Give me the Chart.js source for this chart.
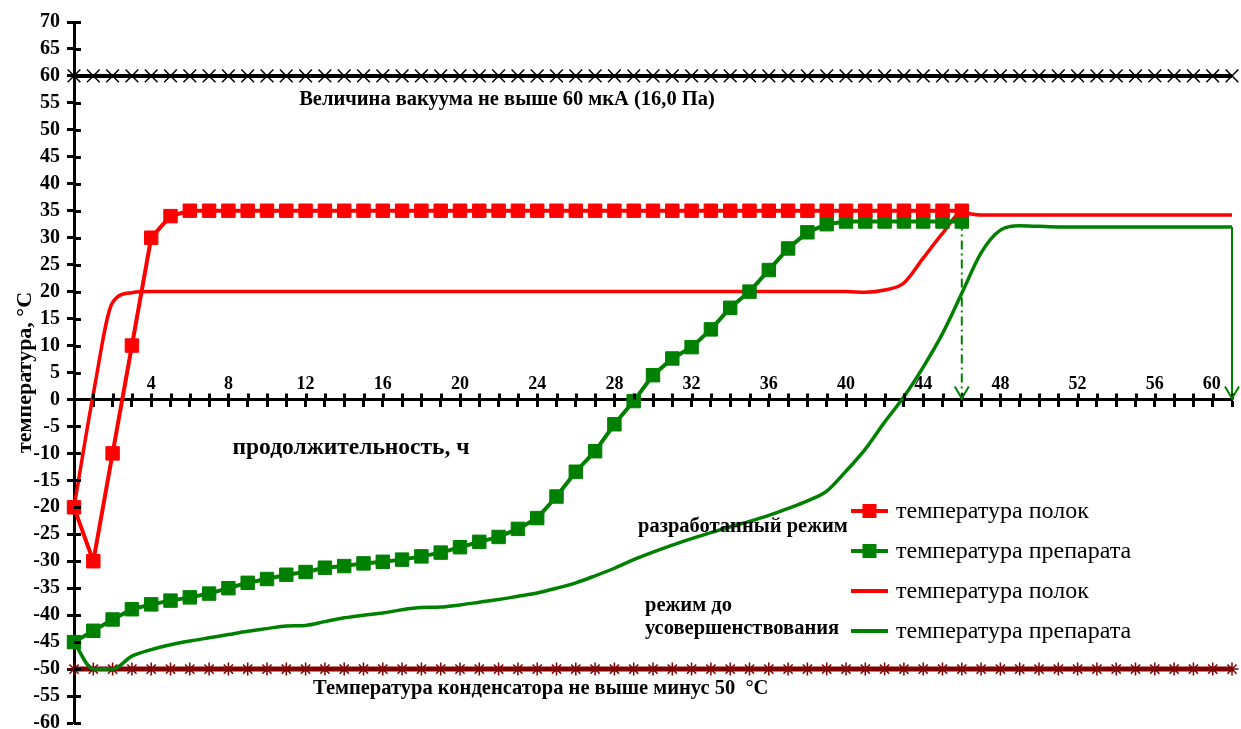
<!DOCTYPE html>
<html>
<head>
<meta charset="utf-8">
<script src="https://cdn.jsdelivr.net/npm/chart.js@4.4.1/dist/chart.umd.min.js"></script>
<style>
  html, body { margin: 0; padding: 0; background: #fff; }
  #wrap { width: 1241px; height: 729px; position: relative; }
</style>
</head>
<body>
<div id="wrap"><canvas id="dryChart"></canvas></div>
<script>
// продолжительность, ч
const hours = [0, 1, 2, 3, 4, 5, 6, 7, 8, 9, 10, 11, 12, 13, 14, 15, 16, 17, 18, 19, 20,
  21, 22, 23, 24, 25, 26, 27, 28, 29, 30, 31, 32, 33, 34, 35, 36, 37, 38, 39, 40,
  41, 42, 43, 44, 45, 46, 47, 48, 49, 50, 51, 52, 53, 54, 55, 56, 57, 58, 59, 60];

// разработанный режим (0..46 ч)
const shelfNew = [-20, -30, -10, 10, 30, 34, 35, 35, 35, 35, 35, 35, 35, 35, 35, 35, 35, 35, 35, 35,
  35, 35, 35, 35, 35, 35, 35, 35, 35, 35, 35, 35, 35, 35, 35, 35, 35, 35, 35, 35,
  35, 35, 35, 35, 35, 35, 35];
const productNew = [-45, -42.9, -40.8, -38.9, -38, -37.3, -36.7, -36, -35, -34,
  -33.3, -32.5, -32, -31.2, -30.9, -30.4, -30.1, -29.7, -29.1, -28.4,
  -27.4, -26.4, -25.5, -24, -22, -18, -13.4, -9.6, -4.6, -0.3,
  4.5, 7.6, 9.7, 13, 17, 20, 24, 28, 31, 32.5,
  33, 33, 33, 33, 33, 33, 33];

// режим до усовершенствования (0..60 ч)
const shelfOld = [-20, 1, 18, 19.8, 20, 20, 20, 20, 20, 20,
  20, 20, 20, 20, 20, 20, 20, 20, 20, 20,
  20, 20, 20, 20, 20, 20, 20, 20, 20, 20,
  20, 20, 20, 20, 20, 20, 20, 20, 20, 20,
  20, 19.9, 20.3, 21.6, 26.2, 30.8, 34.6, 34.2, 34.2, 34.2,
  34.2, 34.2, 34.2, 34.2, 34.2, 34.2, 34.2, 34.2, 34.2, 34.2, 34.2];
const productOld = [-45, -50, -50, -47.6, -46.4, -45.5, -44.8, -44.2, -43.6, -43,
  -42.5, -42, -41.9, -41.2, -40.5, -40, -39.6, -39, -38.6, -38.5,
  -38.1, -37.6, -37.1, -36.5, -35.9, -35, -34, -32.7, -31.3, -29.7,
  -28.3, -27, -25.8, -24.7, -23.6, -22.6, -21.5, -20.2, -18.8, -17,
  -13.3, -9.2, -4.2, 0.5, 6, 12.2, 19.7, 27.2, 31.4, 32.2,
  32.1, 32, 32, 32, 32, 32, 32, 32, 32, 32, 32];

// ограничения
const vacuumLimit = 60;
const condenserLimit = -50;

// окончание сушки (стрелки): [ч, температура препарата]
const endNew = [46, 33];
const endOld = [60, 32];

const yTicks = { min: -60, max: 70, step: 5 };
const xTicks = { min: 0, max: 60, step: 1, labelEvery: 4 };

const RED = '#ff0000';
const GREEN = '#008000';
const MAROON = '#800000';
const SERIF = '"Liberation Serif", "Times New Roman", serif';

const pts = (ys) => ys.map((y, i) => ({ x: hours[i], y: y }));
const flat = (v) => hours.map(h => ({ x: h, y: v }));

// подписи на поле графика
const notes = [
  { text: 'Величина вакуума не выше 60 мкА (16,0 Па)', x: 507, y: 100, align: 'center', size: 20.5 },
  { text: 'продолжительность, ч', x: 351, y: 448, align: 'center', size: 23.5 },
  { text: 'разработанный режим', x: 638, y: 527, align: 'left', size: 20.5 },
  { text: 'режим до', x: 645, y: 606, align: 'left', size: 20.5 },
  { text: 'усовершенствования', x: 645, y: 629, align: 'left', size: 20.5 },
  { text: 'Температура конденсатора не выше минус 50  °C', x: 313, y: 689, align: 'left', size: 20.5 }
];

const notesPlugin = {
  id: 'notes',
  afterDatasetsDraw(chart) {
    const ctx = chart.ctx;
    ctx.save();
    ctx.fillStyle = '#000';
    ctx.textBaseline = 'middle';
    notes.forEach(n => {
      ctx.font = 'bold ' + n.size + 'px ' + SERIF;
      ctx.textAlign = n.align;
      ctx.fillText(n.text, n.x, n.y);
    });
    ctx.restore();
  }
};

// легенда справа внизу
const legendPlugin = {
  id: 'sideLegend',
  afterDatasetsDraw(chart) {
    const ctx = chart.ctx;
    const x0 = 851, x1 = 888, tx = 896;
    const rows = [511, 551, 591, 631];
    ctx.save();
    chart.data.datasets.slice(0, 4).forEach((ds, i) => {
      const y = rows[i];
      ctx.strokeStyle = ds.borderColor;
      ctx.lineWidth = 4;
      ctx.beginPath();
      ctx.moveTo(x0, y);
      ctx.lineTo(x1, y);
      ctx.stroke();
      if (ds.pointRadius > 0) {
        ctx.fillStyle = ds.borderColor;
        ctx.fillRect((x0 + x1) / 2 - 7, y - 7, 14, 14);
      }
      ctx.fillStyle = '#000';
      ctx.font = '24px ' + SERIF;
      ctx.textAlign = 'left';
      ctx.textBaseline = 'middle';
      ctx.fillText(ds.label, tx, y + 1);
    });
    ctx.restore();
  }
};

// засечки, пересекающие оси, и наконечники стрелок
const axisPlugin = {
  id: 'axisExtras',
  afterDraw(chart) {
    const ctx = chart.ctx;
    const xs = chart.scales.x, ys = chart.scales.y;
    const y0 = ys.getPixelForValue(0);
    const left = chart.chartArea.left;
    ctx.save();
    ctx.strokeStyle = '#000';
    ctx.lineWidth = 3;
    ys.ticks.forEach(t => {
      const p = Math.round(ys.getPixelForValue(t.value)) + 0.5;
      ctx.beginPath();
      ctx.moveTo(left, p);
      ctx.lineTo(left + 7, p);
      ctx.stroke();
    });
    xs.ticks.forEach(t => {
      if (t.value === 0) return;
      const p = Math.round(xs.getPixelForValue(t.value)) + 0.5;
      ctx.beginPath();
      ctx.moveTo(p, y0);
      ctx.lineTo(p, y0 - 6);
      ctx.stroke();
    });
    // наконечники стрелок
    ctx.strokeStyle = GREEN;
    ctx.lineWidth = 2;
    const n = chart.data.datasets.length;
    [n - 2, n - 1].forEach(i => {
      const meta = chart.getDatasetMeta(i);
      const tip = meta.data[meta.data.length - 1];
      ctx.beginPath();
      ctx.moveTo(tip.x - 7, tip.y - 13);
      ctx.lineTo(tip.x, tip.y - 1);
      ctx.lineTo(tip.x + 7, tip.y - 13);
      ctx.stroke();
    });
    ctx.restore();
  }
};

const lineDefaults = { showLine: true, clip: false, fill: false };

new Chart(document.getElementById('dryChart'), {
  type: 'scatter',
  data: {
    datasets: [
      Object.assign({
        label: 'температура полок',
        data: pts(shelfNew),
        borderColor: RED, backgroundColor: RED,
        borderWidth: 4, pointStyle: 'rect', pointRadius: 9.5, pointBorderWidth: 1,
        pointBackgroundColor: RED, pointBorderColor: RED, tension: 0
      }, lineDefaults),
      Object.assign({
        label: 'температура препарата',
        data: pts(productNew),
        borderColor: GREEN, backgroundColor: GREEN,
        borderWidth: 4, pointStyle: 'rect', pointRadius: 9.5, pointBorderWidth: 1,
        pointBackgroundColor: GREEN, pointBorderColor: GREEN, tension: 0
      }, lineDefaults),
      Object.assign({
        label: 'температура полок',
        data: pts(shelfOld),
        borderColor: RED, backgroundColor: RED,
        borderWidth: 3.5, pointRadius: 0, cubicInterpolationMode: 'monotone'
      }, lineDefaults),
      Object.assign({
        label: 'температура препарата',
        data: pts(productOld),
        borderColor: GREEN, backgroundColor: GREEN,
        borderWidth: 3.5, pointRadius: 0, cubicInterpolationMode: 'monotone'
      }, lineDefaults),
      Object.assign({
        label: 'vacuum',
        data: flat(vacuumLimit),
        borderColor: '#000', borderWidth: 4,
        pointStyle: 'crossRot', pointRadius: 9, pointBorderWidth: 1.5,
        pointBorderColor: '#000', pointBackgroundColor: '#000'
      }, lineDefaults),
      Object.assign({
        label: 'condenser',
        data: flat(condenserLimit),
        borderColor: MAROON, borderWidth: 5,
        pointStyle: 'star', pointRadius: 6.5, pointBorderWidth: 1.5,
        pointBorderColor: MAROON, pointBackgroundColor: MAROON
      }, lineDefaults),
      Object.assign({
        label: 'arrowNew',
        data: [{ x: endNew[0], y: endNew[1] }, { x: endNew[0], y: 0 }],
        borderColor: GREEN, borderWidth: 2, borderDash: [9, 4, 2, 4], pointRadius: 0
      }, lineDefaults),
      Object.assign({
        label: 'arrowOld',
        data: [{ x: endOld[0], y: endOld[1] }, { x: endOld[0], y: 0 }],
        borderColor: GREEN, borderWidth: 2, pointRadius: 0
      }, lineDefaults)
    ]
  },
  options: {
    responsive: true,
    maintainAspectRatio: false,
    devicePixelRatio: 1,
    animation: false,
    layout: { autoPadding: false, padding: { left: 0, right: 9, top: 22, bottom: 6 } },
    plugins: {
      legend: { display: false },
      tooltip: { enabled: false }
    },
    scales: {
      x: {
        type: 'linear',
        position: { y: 0 },
        min: xTicks.min,
        max: xTicks.max,
        afterFit(scale) {
          scale.height = 0;
          scale.paddingLeft = 0;
          scale.paddingRight = 0;
        },
        ticks: {
          stepSize: xTicks.step,
          autoSkip: false,
          maxRotation: 0,
          padding: -32,
          color: '#000',
          font: { family: SERIF, size: 18, weight: 'bold' },
          callback(v) {
            if (v === 0 || v % xTicks.labelEvery !== 0) return '';
            // последнюю подпись сдвигаем влево от стрелки
            return v === xTicks.max ? v + '\u00a0'.repeat(9) : String(v);
          }
        },
        grid: {
          drawOnChartArea: false,
          tickLength: 6,
          tickWidth: 3,
          tickColor: '#000'
        },
        border: { color: '#000', width: 3 }
      },
      y: {
        type: 'linear',
        position: 'left',
        min: yTicks.min,
        max: yTicks.max,
        afterFit(scale) {
          scale.width = 74;
          scale.paddingTop = 0;
          scale.paddingBottom = 0;
        },
        ticks: {
          stepSize: yTicks.step,
          autoSkip: false,
          padding: 7,
          color: '#000',
          font: { family: SERIF, size: 20, weight: 'bold' }
        },
        grid: {
          drawOnChartArea: false,
          tickLength: 7,
          tickWidth: 3,
          tickColor: '#000'
        },
        border: { color: '#000', width: 3 },
        title: {
          display: true,
          text: 'температура, °C',
          color: '#000',
          padding: { top: 12, bottom: 0 },
          font: { family: SERIF, size: 22, weight: 'bold' }
        }
      }
    }
  },
  plugins: [notesPlugin, legendPlugin, axisPlugin]
});
</script>
</body>
</html>
